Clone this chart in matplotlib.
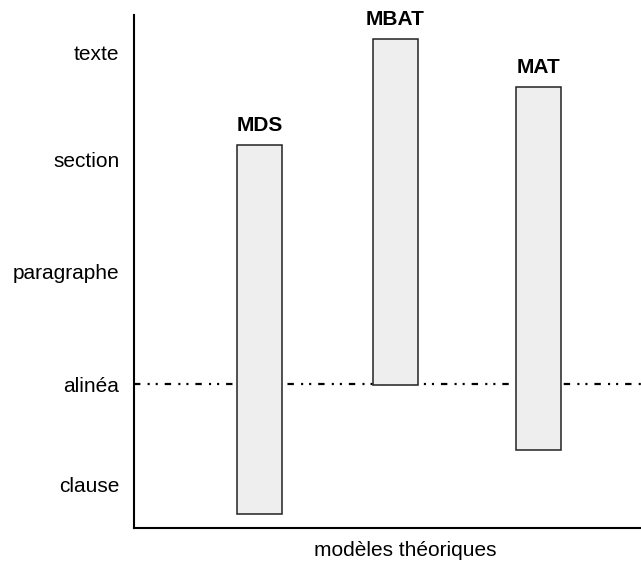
import matplotlib
matplotlib.use("Agg")
import matplotlib.pyplot as plt

plt.rcParams['font.family'] = ['Liberation Sans', 'DejaVu Sans']
plt.rcParams['lines.scale_dashes'] = False

# Data
levels = ["clause", "alinéa", "paragraphe", "section", "texte"]
level_values = [0.44, 1.44, 2.56, 3.68, 4.75]
models = ["MDS", "MBAT", "MAT"]
model_x = [1.255, 2.615, 4.045]
bar_low = [0.14, 1.43, 0.78]
bar_high = [3.83, 4.89, 4.41]
reference_level = 1.44

fig = plt.figure(figsize=(6.41, 5.65), dpi=100)
ax = fig.add_axes([134/641, 37/565, 1 - 134/641, (528-15)/565])
ax.set_xlim(0, 5.07)
ax.set_ylim(0, 5.13)

ax.axhline(reference_level, color='black', lw=1.6,
           linestyle=(0, (4.6, 5.2, 1.5, 4.3, 1.5, 5.0)), zorder=1)

width = 0.45
for x, lo, hi, name in zip(model_x, bar_low, bar_high, models):
    ax.bar(x, hi - lo, bottom=lo, width=width, color='#eeeeee',
           edgecolor='#222222', linewidth=1.1, zorder=2)
    ax.annotate(name, (x, hi), xytext=(0, 7.4), textcoords='offset points',
                ha='center', va='bottom', fontsize=15, fontweight='bold')

ax.set_yticks(level_values)
ax.set_yticklabels(levels, fontsize=15)
ax.tick_params(axis='y', length=0, pad=10.5)
ax.set_xticks([])
ax.set_xlabel("modèles théoriques", fontsize=15)
ax.xaxis.set_label_coords((405 - 134) / 507, -0.026)

for s in ['top', 'right']:
    ax.spines[s].set_visible(False)
for s in ['left', 'bottom']:
    ax.spines[s].set_linewidth(1.5)

fig.savefig("out.png", dpi=100)
